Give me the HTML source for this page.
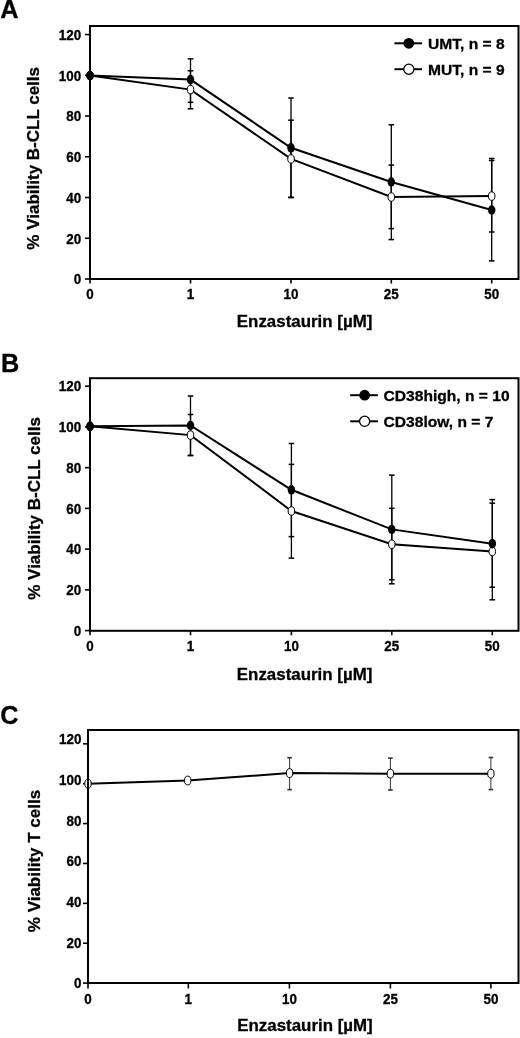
<!DOCTYPE html>
<html><head><meta charset="utf-8"><title>Enzastaurin viability</title>
<style>html,body{margin:0;padding:0;background:#fff;width:520px;height:1038px;overflow:hidden}svg{display:block;filter:grayscale(1)}text{fill:#000;stroke:#000;stroke-width:0.3px}</style>
</head><body>
<svg width="520" height="1038" viewBox="0 0 520 1038" font-family='"Liberation Sans", sans-serif'>
<rect width="520" height="1038" fill="#fff"/>
<text x="39.5" y="158.3" transform="rotate(-90 39.5 158.3)" text-anchor="middle" font-size="17" font-weight="bold">% Viability B-CLL cells</text>
<text x="304.6" y="327.2" text-anchor="middle" font-size="16.9" font-weight="bold">Enzastaurin [µM]</text>
<text x="0.2" y="17.6" font-size="25.3" font-weight="bold">A</text>
<line x1="85" y1="279" x2="90" y2="279" stroke="#000" stroke-width="1.6"/>
<text transform="translate(81.1 279.4) scale(1 1.08)" y="4.61" text-anchor="end" font-size="13.4" font-weight="bold">0</text>
<line x1="85" y1="238.26" x2="90" y2="238.26" stroke="#000" stroke-width="1.6"/>
<text transform="translate(81.1 238.66) scale(1 1.08)" y="4.61" text-anchor="end" font-size="13.4" font-weight="bold">20</text>
<line x1="85" y1="197.52" x2="90" y2="197.52" stroke="#000" stroke-width="1.6"/>
<text transform="translate(81.1 197.92) scale(1 1.08)" y="4.61" text-anchor="end" font-size="13.4" font-weight="bold">40</text>
<line x1="85" y1="156.78" x2="90" y2="156.78" stroke="#000" stroke-width="1.6"/>
<text transform="translate(81.1 157.18) scale(1 1.08)" y="4.61" text-anchor="end" font-size="13.4" font-weight="bold">60</text>
<line x1="85" y1="116.04" x2="90" y2="116.04" stroke="#000" stroke-width="1.6"/>
<text transform="translate(81.1 116.44) scale(1 1.08)" y="4.61" text-anchor="end" font-size="13.4" font-weight="bold">80</text>
<line x1="85" y1="75.3" x2="90" y2="75.3" stroke="#000" stroke-width="1.6"/>
<text transform="translate(81.1 75.7) scale(1 1.08)" y="4.61" text-anchor="end" font-size="13.4" font-weight="bold">100</text>
<line x1="85" y1="34.56" x2="90" y2="34.56" stroke="#000" stroke-width="1.6"/>
<text transform="translate(81.1 34.96) scale(1 1.08)" y="4.61" text-anchor="end" font-size="13.4" font-weight="bold">120</text>
<line x1="90" y1="279" x2="90" y2="283.5" stroke="#000" stroke-width="1.6"/>
<text transform="translate(90 294) scale(1 1.08)" y="4.61" text-anchor="middle" font-size="13.4" font-weight="bold">0</text>
<line x1="190.5" y1="279" x2="190.5" y2="283.5" stroke="#000" stroke-width="1.6"/>
<text transform="translate(190.5 294) scale(1 1.08)" y="4.61" text-anchor="middle" font-size="13.4" font-weight="bold">1</text>
<line x1="291" y1="279" x2="291" y2="283.5" stroke="#000" stroke-width="1.6"/>
<text transform="translate(291 294) scale(1 1.08)" y="4.61" text-anchor="middle" font-size="13.4" font-weight="bold">10</text>
<line x1="391.3" y1="279" x2="391.3" y2="283.5" stroke="#000" stroke-width="1.6"/>
<text transform="translate(391.3 294) scale(1 1.08)" y="4.61" text-anchor="middle" font-size="13.4" font-weight="bold">25</text>
<line x1="491.7" y1="279" x2="491.7" y2="283.5" stroke="#000" stroke-width="1.6"/>
<text transform="translate(491.7 294) scale(1 1.08)" y="4.61" text-anchor="middle" font-size="13.4" font-weight="bold">50</text>
<line x1="190.5" y1="58.8" x2="190.5" y2="102.3" stroke="#000" stroke-width="1.3"/>
<line x1="187.7" y1="58.8" x2="193.3" y2="58.8" stroke="#000" stroke-width="1.5"/>
<line x1="187.7" y1="102.3" x2="193.3" y2="102.3" stroke="#000" stroke-width="1.5"/>
<line x1="291" y1="98" x2="291" y2="197.3" stroke="#000" stroke-width="1.3"/>
<line x1="288.2" y1="98" x2="293.8" y2="98" stroke="#000" stroke-width="1.5"/>
<line x1="288.2" y1="197.3" x2="293.8" y2="197.3" stroke="#000" stroke-width="1.5"/>
<line x1="391.3" y1="124.8" x2="391.3" y2="239.6" stroke="#000" stroke-width="1.3"/>
<line x1="388.5" y1="124.8" x2="394.1" y2="124.8" stroke="#000" stroke-width="1.5"/>
<line x1="388.5" y1="239.6" x2="394.1" y2="239.6" stroke="#000" stroke-width="1.5"/>
<line x1="491.7" y1="158.5" x2="491.7" y2="260.9" stroke="#000" stroke-width="1.3"/>
<line x1="488.9" y1="158.5" x2="494.5" y2="158.5" stroke="#000" stroke-width="1.5"/>
<line x1="488.9" y1="260.9" x2="494.5" y2="260.9" stroke="#000" stroke-width="1.5"/>
<line x1="190.5" y1="70.8" x2="190.5" y2="108.8" stroke="#000" stroke-width="1.3"/>
<line x1="187.7" y1="70.8" x2="193.3" y2="70.8" stroke="#000" stroke-width="1.5"/>
<line x1="187.7" y1="108.8" x2="193.3" y2="108.8" stroke="#000" stroke-width="1.5"/>
<line x1="291" y1="120.2" x2="291" y2="197.6" stroke="#000" stroke-width="1.3"/>
<line x1="288.2" y1="120.2" x2="293.8" y2="120.2" stroke="#000" stroke-width="1.5"/>
<line x1="288.2" y1="197.6" x2="293.8" y2="197.6" stroke="#000" stroke-width="1.5"/>
<line x1="391.3" y1="165.1" x2="391.3" y2="228.6" stroke="#000" stroke-width="1.3"/>
<line x1="388.5" y1="165.1" x2="394.1" y2="165.1" stroke="#000" stroke-width="1.5"/>
<line x1="388.5" y1="228.6" x2="394.1" y2="228.6" stroke="#000" stroke-width="1.5"/>
<line x1="491.7" y1="160.5" x2="491.7" y2="232" stroke="#000" stroke-width="1.3"/>
<line x1="488.9" y1="160.5" x2="494.5" y2="160.5" stroke="#000" stroke-width="1.5"/>
<line x1="488.9" y1="232" x2="494.5" y2="232" stroke="#000" stroke-width="1.5"/>
<polyline points="90,75.6 190.5,79.6 291,147.8 391.3,182 491.7,210" fill="none" stroke="#000" stroke-width="2.0"/>
<polyline points="90,75.6 190.5,89.6 291,158.9 391.3,197 491.7,196.1" fill="none" stroke="#000" stroke-width="2.0"/>
<ellipse cx="90" cy="75.6" rx="3.25" ry="4.25" fill="#fff" stroke="#000" stroke-width="1"/>
<ellipse cx="190.5" cy="89.6" rx="3.25" ry="4.25" fill="#fff" stroke="#000" stroke-width="1"/>
<ellipse cx="291" cy="158.9" rx="3.25" ry="4.25" fill="#fff" stroke="#000" stroke-width="1"/>
<ellipse cx="391.3" cy="197" rx="3.25" ry="4.25" fill="#fff" stroke="#000" stroke-width="1"/>
<ellipse cx="491.7" cy="196.1" rx="3.25" ry="4.25" fill="#fff" stroke="#000" stroke-width="1"/>
<ellipse cx="90" cy="75.6" rx="3.75" ry="4.75" fill="#000"/>
<ellipse cx="190.5" cy="79.6" rx="3.75" ry="4.75" fill="#000"/>
<ellipse cx="291" cy="147.8" rx="3.75" ry="4.75" fill="#000"/>
<ellipse cx="391.3" cy="182" rx="3.75" ry="4.75" fill="#000"/>
<ellipse cx="491.7" cy="210" rx="3.75" ry="4.75" fill="#000"/>
<rect x="90" y="26" width="428.5" height="253" fill="none" stroke="#000" stroke-width="2.0"/>
<line x1="394.4" y1="43.3" x2="422.1" y2="43.3" stroke="#000" stroke-width="2"/>
<circle cx="408.85" cy="43.3" r="5.4" fill="#000"/>
<text transform="translate(428 48.67) scale(1 0.94)" font-size="15.6" font-weight="bold">UMT, n = 8</text>
<line x1="394.4" y1="69.2" x2="422.1" y2="69.2" stroke="#000" stroke-width="2"/>
<circle cx="408.85" cy="69.2" r="5.1" fill="#fff" stroke="#000" stroke-width="1.3"/>
<text transform="translate(428 74.57) scale(1 0.94)" font-size="15.6" font-weight="bold">MUT, n = 9</text>
<text x="39.6" y="508.4" transform="rotate(-90 39.6 508.4)" text-anchor="middle" font-size="17" font-weight="bold">% Viability B-CLL cells</text>
<text x="304.6" y="679.6" text-anchor="middle" font-size="16.9" font-weight="bold">Enzastaurin [µM]</text>
<text x="1" y="371.5" font-size="25.3" font-weight="bold">B</text>
<line x1="85" y1="630.6" x2="90" y2="630.6" stroke="#000" stroke-width="1.6"/>
<text transform="translate(81.1 630.9) scale(1 1.08)" y="4.61" text-anchor="end" font-size="13.4" font-weight="bold">0</text>
<line x1="85" y1="589.86" x2="90" y2="589.86" stroke="#000" stroke-width="1.6"/>
<text transform="translate(81.1 590.16) scale(1 1.08)" y="4.61" text-anchor="end" font-size="13.4" font-weight="bold">20</text>
<line x1="85" y1="549.12" x2="90" y2="549.12" stroke="#000" stroke-width="1.6"/>
<text transform="translate(81.1 549.42) scale(1 1.08)" y="4.61" text-anchor="end" font-size="13.4" font-weight="bold">40</text>
<line x1="85" y1="508.38" x2="90" y2="508.38" stroke="#000" stroke-width="1.6"/>
<text transform="translate(81.1 508.68) scale(1 1.08)" y="4.61" text-anchor="end" font-size="13.4" font-weight="bold">60</text>
<line x1="85" y1="467.64" x2="90" y2="467.64" stroke="#000" stroke-width="1.6"/>
<text transform="translate(81.1 467.94) scale(1 1.08)" y="4.61" text-anchor="end" font-size="13.4" font-weight="bold">80</text>
<line x1="85" y1="426.9" x2="90" y2="426.9" stroke="#000" stroke-width="1.6"/>
<text transform="translate(81.1 427.2) scale(1 1.08)" y="4.61" text-anchor="end" font-size="13.4" font-weight="bold">100</text>
<line x1="85" y1="386.16" x2="90" y2="386.16" stroke="#000" stroke-width="1.6"/>
<text transform="translate(81.1 386.46) scale(1 1.08)" y="4.61" text-anchor="end" font-size="13.4" font-weight="bold">120</text>
<line x1="90" y1="630.8" x2="90" y2="635.3" stroke="#000" stroke-width="1.6"/>
<text transform="translate(90 645.8) scale(1 1.08)" y="4.61" text-anchor="middle" font-size="13.4" font-weight="bold">0</text>
<line x1="190.5" y1="630.8" x2="190.5" y2="635.3" stroke="#000" stroke-width="1.6"/>
<text transform="translate(190.5 645.8) scale(1 1.08)" y="4.61" text-anchor="middle" font-size="13.4" font-weight="bold">1</text>
<line x1="291.4" y1="630.8" x2="291.4" y2="635.3" stroke="#000" stroke-width="1.6"/>
<text transform="translate(291.4 645.8) scale(1 1.08)" y="4.61" text-anchor="middle" font-size="13.4" font-weight="bold">10</text>
<line x1="391.8" y1="630.8" x2="391.8" y2="635.3" stroke="#000" stroke-width="1.6"/>
<text transform="translate(391.8 645.8) scale(1 1.08)" y="4.61" text-anchor="middle" font-size="13.4" font-weight="bold">25</text>
<line x1="492.3" y1="630.8" x2="492.3" y2="635.3" stroke="#000" stroke-width="1.6"/>
<text transform="translate(492.3 645.8) scale(1 1.08)" y="4.61" text-anchor="middle" font-size="13.4" font-weight="bold">50</text>
<line x1="190.5" y1="396" x2="190.5" y2="455.5" stroke="#000" stroke-width="1.3"/>
<line x1="187.7" y1="396" x2="193.3" y2="396" stroke="#000" stroke-width="1.5"/>
<line x1="187.7" y1="455.5" x2="193.3" y2="455.5" stroke="#000" stroke-width="1.5"/>
<line x1="291.4" y1="443.5" x2="291.4" y2="536.6" stroke="#000" stroke-width="1.3"/>
<line x1="288.6" y1="443.5" x2="294.2" y2="443.5" stroke="#000" stroke-width="1.5"/>
<line x1="288.6" y1="536.6" x2="294.2" y2="536.6" stroke="#000" stroke-width="1.5"/>
<line x1="391.8" y1="475.1" x2="391.8" y2="583.8" stroke="#000" stroke-width="1.3"/>
<line x1="389" y1="475.1" x2="394.6" y2="475.1" stroke="#000" stroke-width="1.5"/>
<line x1="389" y1="583.8" x2="394.6" y2="583.8" stroke="#000" stroke-width="1.5"/>
<line x1="492.3" y1="499.6" x2="492.3" y2="587.2" stroke="#000" stroke-width="1.3"/>
<line x1="489.5" y1="499.6" x2="495.1" y2="499.6" stroke="#000" stroke-width="1.5"/>
<line x1="489.5" y1="587.2" x2="495.1" y2="587.2" stroke="#000" stroke-width="1.5"/>
<line x1="190.5" y1="414.5" x2="190.5" y2="455.5" stroke="#000" stroke-width="1.3"/>
<line x1="187.7" y1="414.5" x2="193.3" y2="414.5" stroke="#000" stroke-width="1.5"/>
<line x1="187.7" y1="455.5" x2="193.3" y2="455.5" stroke="#000" stroke-width="1.5"/>
<line x1="291.4" y1="464.4" x2="291.4" y2="558.1" stroke="#000" stroke-width="1.3"/>
<line x1="288.6" y1="464.4" x2="294.2" y2="464.4" stroke="#000" stroke-width="1.5"/>
<line x1="288.6" y1="558.1" x2="294.2" y2="558.1" stroke="#000" stroke-width="1.5"/>
<line x1="391.8" y1="508.3" x2="391.8" y2="579.8" stroke="#000" stroke-width="1.3"/>
<line x1="389" y1="508.3" x2="394.6" y2="508.3" stroke="#000" stroke-width="1.5"/>
<line x1="389" y1="579.8" x2="394.6" y2="579.8" stroke="#000" stroke-width="1.5"/>
<line x1="492.3" y1="503.2" x2="492.3" y2="599.8" stroke="#000" stroke-width="1.3"/>
<line x1="489.5" y1="503.2" x2="495.1" y2="503.2" stroke="#000" stroke-width="1.5"/>
<line x1="489.5" y1="599.8" x2="495.1" y2="599.8" stroke="#000" stroke-width="1.5"/>
<polyline points="90,426.3 190.5,425.5 291.4,489.8 391.8,529.4 492.3,543.7" fill="none" stroke="#000" stroke-width="2.0"/>
<polyline points="90,426.3 190.5,435.1 291.4,511 391.8,544.2 492.3,551.5" fill="none" stroke="#000" stroke-width="2.0"/>
<ellipse cx="90" cy="426.3" rx="3.25" ry="4.25" fill="#fff" stroke="#000" stroke-width="1"/>
<ellipse cx="190.5" cy="435.1" rx="3.25" ry="4.25" fill="#fff" stroke="#000" stroke-width="1"/>
<ellipse cx="291.4" cy="511" rx="3.25" ry="4.25" fill="#fff" stroke="#000" stroke-width="1"/>
<ellipse cx="391.8" cy="544.2" rx="3.25" ry="4.25" fill="#fff" stroke="#000" stroke-width="1"/>
<ellipse cx="492.3" cy="551.5" rx="3.25" ry="4.25" fill="#fff" stroke="#000" stroke-width="1"/>
<ellipse cx="90" cy="426.3" rx="3.75" ry="4.75" fill="#000"/>
<ellipse cx="190.5" cy="425.5" rx="3.75" ry="4.75" fill="#000"/>
<ellipse cx="291.4" cy="489.8" rx="3.75" ry="4.75" fill="#000"/>
<ellipse cx="391.8" cy="529.4" rx="3.75" ry="4.75" fill="#000"/>
<ellipse cx="492.3" cy="543.7" rx="3.75" ry="4.75" fill="#000"/>
<rect x="90" y="378.2" width="428.5" height="252.6" fill="none" stroke="#000" stroke-width="2.0"/>
<line x1="350.2" y1="395.2" x2="377.9" y2="395.2" stroke="#000" stroke-width="2"/>
<circle cx="364.65" cy="395.2" r="5.4" fill="#000"/>
<text transform="translate(383.6 400.57) scale(1 0.94)" font-size="15.6" font-weight="bold">CD38high, n = 10</text>
<line x1="350.2" y1="421.3" x2="377.9" y2="421.3" stroke="#000" stroke-width="2"/>
<circle cx="364.65" cy="421.3" r="5.1" fill="#fff" stroke="#000" stroke-width="1.3"/>
<text transform="translate(383.6 426.67) scale(1 0.94)" font-size="15.6" font-weight="bold">CD38low, n = 7</text>
<text x="39.6" y="861" transform="rotate(-90 39.6 861)" text-anchor="middle" font-size="17" font-weight="bold">% Viability T cells</text>
<text x="305" y="1031.2" text-anchor="middle" font-size="16.9" font-weight="bold">Enzastaurin [µM]</text>
<text x="0.2" y="723.6" font-size="25.3" font-weight="bold">C</text>
<line x1="83" y1="983.1" x2="88" y2="983.1" stroke="#000" stroke-width="1.6"/>
<text transform="translate(81.4 983.3) scale(1 1.08)" y="4.61" text-anchor="end" font-size="13.4" font-weight="bold">0</text>
<line x1="83" y1="943.22" x2="88" y2="943.22" stroke="#000" stroke-width="1.6"/>
<text transform="translate(81.4 942.65) scale(1 1.08)" y="4.61" text-anchor="end" font-size="13.4" font-weight="bold">20</text>
<line x1="83" y1="903.34" x2="88" y2="903.34" stroke="#000" stroke-width="1.6"/>
<text transform="translate(81.4 902) scale(1 1.08)" y="4.61" text-anchor="end" font-size="13.4" font-weight="bold">40</text>
<line x1="83" y1="863.46" x2="88" y2="863.46" stroke="#000" stroke-width="1.6"/>
<text transform="translate(81.4 861.35) scale(1 1.08)" y="4.61" text-anchor="end" font-size="13.4" font-weight="bold">60</text>
<line x1="83" y1="823.58" x2="88" y2="823.58" stroke="#000" stroke-width="1.6"/>
<text transform="translate(81.4 820.7) scale(1 1.08)" y="4.61" text-anchor="end" font-size="13.4" font-weight="bold">80</text>
<line x1="83" y1="783.7" x2="88" y2="783.7" stroke="#000" stroke-width="1.6"/>
<text transform="translate(81.4 780.05) scale(1 1.08)" y="4.61" text-anchor="end" font-size="13.4" font-weight="bold">100</text>
<line x1="83" y1="743.82" x2="88" y2="743.82" stroke="#000" stroke-width="1.6"/>
<text transform="translate(81.4 739.4) scale(1 1.08)" y="4.61" text-anchor="end" font-size="13.4" font-weight="bold">120</text>
<line x1="88" y1="983" x2="88" y2="988.5" stroke="#000" stroke-width="1.6"/>
<text transform="translate(88 999.3) scale(1 1.08)" y="4.61" text-anchor="middle" font-size="13.4" font-weight="bold">0</text>
<line x1="188.3" y1="983" x2="188.3" y2="988.5" stroke="#000" stroke-width="1.6"/>
<text transform="translate(188.3 999.3) scale(1 1.08)" y="4.61" text-anchor="middle" font-size="13.4" font-weight="bold">1</text>
<line x1="289.4" y1="983" x2="289.4" y2="988.5" stroke="#000" stroke-width="1.6"/>
<text transform="translate(289.4 999.3) scale(1 1.08)" y="4.61" text-anchor="middle" font-size="13.4" font-weight="bold">10</text>
<line x1="390.4" y1="983" x2="390.4" y2="988.5" stroke="#000" stroke-width="1.6"/>
<text transform="translate(390.4 999.3) scale(1 1.08)" y="4.61" text-anchor="middle" font-size="13.4" font-weight="bold">25</text>
<line x1="490.9" y1="983" x2="490.9" y2="988.5" stroke="#000" stroke-width="1.6"/>
<text transform="translate(490.9 999.3) scale(1 1.08)" y="4.61" text-anchor="middle" font-size="13.4" font-weight="bold">50</text>
<line x1="289.6" y1="757.7" x2="289.6" y2="789.6" stroke="#333" stroke-width="1.0"/>
<line x1="287.3" y1="757.7" x2="291.9" y2="757.7" stroke="#333" stroke-width="1.6"/>
<line x1="287.3" y1="789.6" x2="291.9" y2="789.6" stroke="#333" stroke-width="1.6"/>
<line x1="390.4" y1="758.1" x2="390.4" y2="790" stroke="#333" stroke-width="1.0"/>
<line x1="388.1" y1="758.1" x2="392.7" y2="758.1" stroke="#333" stroke-width="1.6"/>
<line x1="388.1" y1="790" x2="392.7" y2="790" stroke="#333" stroke-width="1.6"/>
<line x1="490.9" y1="757.5" x2="490.9" y2="789.6" stroke="#333" stroke-width="1.0"/>
<line x1="488.6" y1="757.5" x2="493.2" y2="757.5" stroke="#333" stroke-width="1.6"/>
<line x1="488.6" y1="789.6" x2="493.2" y2="789.6" stroke="#333" stroke-width="1.6"/>
<polyline points="88,783.7 187.7,780.5 289.6,773.1 390.4,773.7 490.9,773.7" fill="none" stroke="#000" stroke-width="2.0"/>
<ellipse cx="88" cy="783.7" rx="3.2" ry="4.4" fill="#fff" stroke="#000" stroke-width="1"/>
<ellipse cx="187.7" cy="780.5" rx="3.2" ry="4.4" fill="#fff" stroke="#000" stroke-width="1"/>
<ellipse cx="289.6" cy="773.1" rx="3.2" ry="4.4" fill="#fff" stroke="#000" stroke-width="1"/>
<ellipse cx="390.4" cy="773.7" rx="3.2" ry="4.4" fill="#fff" stroke="#000" stroke-width="1"/>
<ellipse cx="490.9" cy="773.7" rx="3.2" ry="4.4" fill="#fff" stroke="#000" stroke-width="1"/>
<rect x="88" y="730" width="430.5" height="253" fill="none" stroke="#000" stroke-width="2.0"/>
</svg>
</body></html>
